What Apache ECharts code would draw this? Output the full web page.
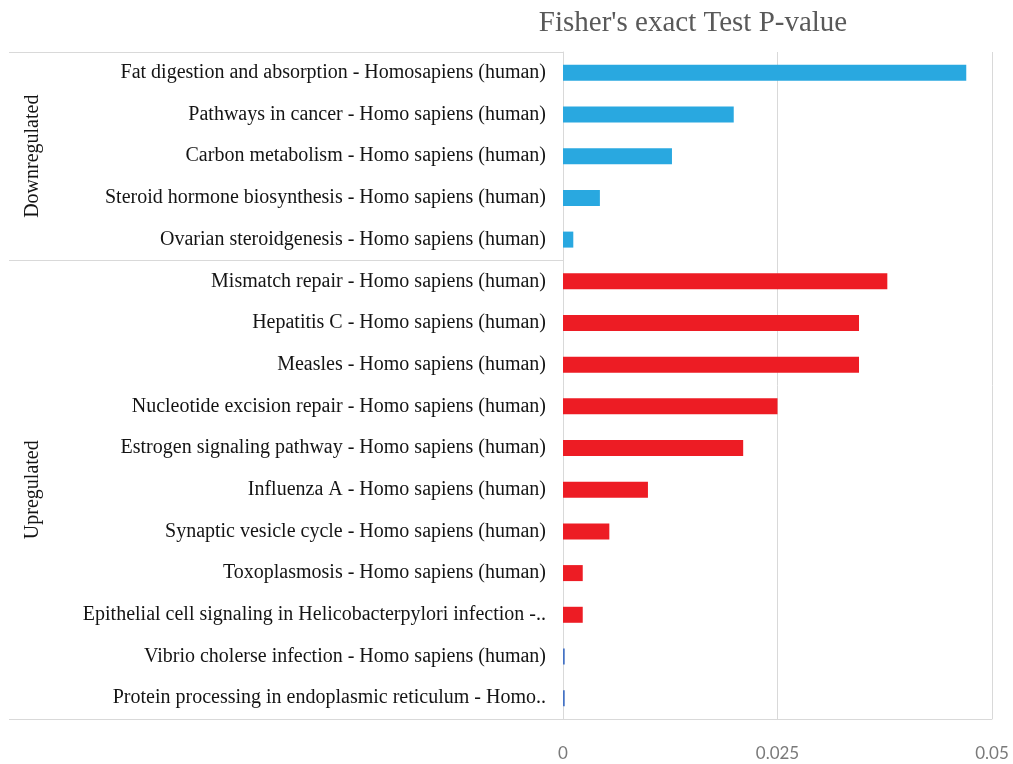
<!DOCTYPE html>
<html>
<head>
<meta charset="utf-8">
<script src="https://cdn.jsdelivr.net/npm/echarts@6/dist/echarts.min.js"></script>
<style>
html,body{margin:0;padding:0;background:#fff;}
#chart{width:1013px;height:764px;}
</style>
</head>
<body>
<div id="chart"></div>
<script>
const categories = [
  "Fat digestion and absorption - Homosapiens (human)",
  "Pathways in cancer - Homo sapiens (human)",
  "Carbon metabolism - Homo sapiens (human)",
  "Steroid hormone biosynthesis - Homo sapiens (human)",
  "Ovarian steroidgenesis - Homo sapiens (human)",
  "Mismatch repair - Homo sapiens (human)",
  "Hepatitis C - Homo sapiens (human)",
  "Measles - Homo sapiens (human)",
  "Nucleotide excision repair - Homo sapiens (human)",
  "Estrogen signaling pathway - Homo sapiens (human)",
  "Influenza A - Homo sapiens (human)",
  "Synaptic vesicle cycle - Homo sapiens (human)",
  "Toxoplasmosis - Homo sapiens (human)",
  "Epithelial cell signaling in Helicobacterpylori infection -..",
  "Vibrio cholerse infection - Homo sapiens (human)",
  "Protein processing in endoplasmic reticulum - Homo.."
];
const pValues = [0.0470, 0.0199, 0.0127, 0.0043, 0.0012,
                 0.0378, 0.0345, 0.0345, 0.0250, 0.0210, 0.0099, 0.0054, 0.0023, 0.0023, 0.0002, 0.0002];
const groups = ["Downregulated","Downregulated","Downregulated","Downregulated","Downregulated",
                "Upregulated","Upregulated","Upregulated","Upregulated","Upregulated","Upregulated",
                "Upregulated","Upregulated","Upregulated","Upregulated","Upregulated"];
const groupNames = ["Downregulated", "Upregulated"];
const xTicks = [0, 0.025, 0.05];
const title = "Fisher's exact Test P-value";

const colorFor = (g, v) => g === "Downregulated" ? "#29a8e0" : (v < 0.0005 ? "#4472c4" : "#ed1c24");

const chart = echarts.init(document.getElementById('chart'), null, {renderer: 'canvas'});
const serif = "'Liberation Serif', 'DejaVu Serif', serif";

const option = {
  animation: false,
  backgroundColor: '#ffffff',
  title: {
    text: title,
    left: 688, top: 4, textAlign: 'center',
    textStyle: {fontFamily: serif, fontSize: 29, fontWeight: 'normal', color: '#595959'}
  },
  grid: {left: 563, right: 21, top: 52, bottom: 45, containLabel: false},
  xAxis: {
    type: 'value', min: xTicks[0], max: xTicks[xTicks.length - 1], interval: xTicks[1] - xTicks[0],
    axisLine: {show: true, lineStyle: {color: '#d9d9d9', width: 1}},
    axisTick: {show: false},
    splitLine: {show: true, lineStyle: {color: '#d9d9d9', width: 1}},
    axisLabel: {
      margin: 26, color: '#7a7a7a', fontSize: 17, fontFamily: "Lato, 'Open Sans', sans-serif",
      formatter: v => xTicks.find(t => Math.abs(t - v) < 1e-9) !== undefined ? String(+v.toFixed(3)) : ''
    }
  },
  yAxis: {
    type: 'category', data: categories, inverse: true,
    axisLine: {show: true, lineStyle: {color: '#d9d9d9', width: 1}},
    axisTick: {show: false},
    splitLine: {show: false},
    axisLabel: {margin: 17, color: '#141414', fontSize: 20, fontFamily: serif}
  },
  series: [{
    type: 'bar',
    barWidth: 16,
    data: pValues.map((v, i) => ({value: v, itemStyle: {color: colorFor(groups[i], v)}}))
  }]
};
chart.setOption(option);

// group bracket lines and rotated group labels, positioned from the category axis
function groupGraphics() {
  const yOf = i => chart.convertToPixel({yAxisIndex: 0}, i);
  const band = yOf(1) - yOf(0);
  const x0 = 9, x1 = chart.convertToPixel({xAxisIndex: 0}, 0);
  const els = [];
  const bounds = [];
  groupNames.forEach(g => {
    const idx = groups.map((gg, i) => gg === g ? i : -1).filter(i => i >= 0);
    const top = yOf(idx[0]) - band / 2;
    const bot = yOf(idx[idx.length - 1]) + band / 2;
    bounds.push(top, bot);
    els.push({
      type: 'text', x: 33, y: (top + bot) / 2, rotation: Math.PI / 2,
      style: {text: g, fontFamily: serif, fontSize: 20, fill: '#141414', align: 'center', verticalAlign: 'middle'}
    });
  });
  const uniq = [...new Set(bounds.map(b => Math.round(b)))];
  uniq.forEach(b => {
    els.push({type: 'line', shape: {x1: x0, y1: b + 0.5, x2: x1, y2: b + 0.5},
      style: {stroke: '#d9d9d9', lineWidth: 1}, silent: true});
  });
  chart.setOption({graphic: els});
}
groupGraphics();
</script>
</body>
</html>
